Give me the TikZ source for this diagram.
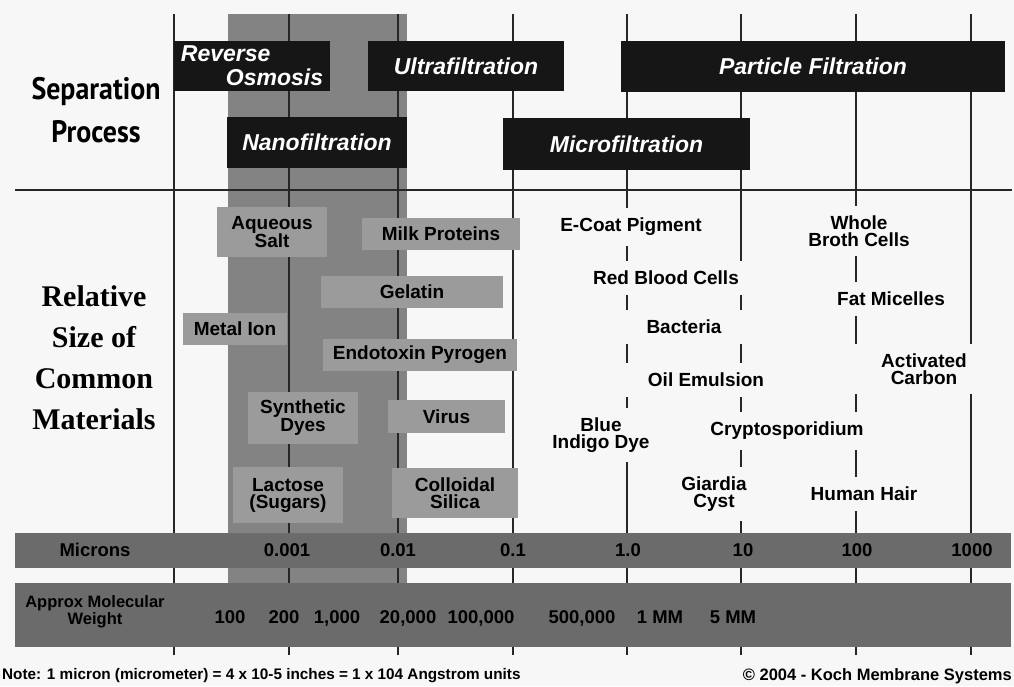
\documentclass[tikz,border=0pt]{standalone}
\usepackage{fontspec}
\setmainfont{Liberation Sans}
\newfontfamily\headfont[FakeStretch=0.9]{PT Sans}
\newfontfamily\fancyfont{Liberation Serif}
\usetikzlibrary{positioning}
\definecolor{Ink}{HTML}{161616}
\definecolor{Column}{HTML}{838383}
\definecolor{Chip}{HTML}{9B9B9B}
\definecolor{Band}{HTML}{6B6B6B}
\definecolor{Paper}{HTML}{F7F7F7}
\tikzset{
sepbox/.style={fill=Ink, text=white, inner sep=0pt, align=center, font=\fontsize{23}{24}\selectfont\bfseries\itshape},
sepmat/.style={fill=Chip, inner sep=0pt, align=center, font=\fontsize{19}{17}\selectfont\bfseries},
sepfree/.style={fill=Paper, inner xsep=28pt, inner ysep=10pt, align=center, font=\fontsize{19}{17}\selectfont\bfseries},
sepband/.style={fill=Band, inner sep=0pt, minimum width=996},
sepval/.style={font=\fontsize{18.5}{18}\selectfont\bfseries, inner sep=0pt, text height=13pt, text depth=3pt},
sepnote/.style={font=\fontsize{15.3}{15}\selectfont\bfseries, inner sep=0pt, anchor=west},
sepgrid/.style={line width=1.3pt, draw=black!85}
}

\begin{document}
\begin{tikzpicture}[x=1pt, y=-1pt]
  \fill[Paper] (0,0) rectangle (1014,686);
  \useasboundingbox (0,0) rectangle (1014,686);
  \fill[Column] (228,14) rectangle (407,583);
  \foreach \gx in {174,289,398,513,627,741,856,971}
    \draw[sepgrid] (\gx,14) -- (\gx,655);
  \draw[sepgrid] (15,190) -- (1012,190);

  \node[font=\headfont\bfseries\fontsize{31}{43}\selectfont, align=center] (sephead) at (96,110) {Separation\\Process};
  \node[font=\fancyfont\bfseries\fontsize{30}{41}\selectfont, align=center] (relhead) at (94,358) {Relative\\Size of\\Common\\Materials};

  \node[sepbox, minimum width=156, minimum height=50, align=left] (ro) at (252,66) {Reverse\\\hspace*{45pt}Osmosis};
  \node[sepbox, minimum width=196, minimum height=50] (uf) at (466,66) {Ultrafiltration};
  \node[sepbox, minimum width=384, minimum height=51] (pf) at (813,66.5) {Particle Filtration};
  \node[sepbox, minimum width=180, minimum height=51] (nf) at (317,142.5) {Nanofiltration};
  \node[sepbox, minimum width=247, minimum height=52] (mf) at (626.5,144) {Microfiltration};

  \node[sepmat, minimum width=110, minimum height=50] (salt) at (272,232) {Aqueous\\Salt};
  \node[sepmat, minimum width=158, minimum height=32] (milk) at (441,234) {Milk Proteins};
  \node[sepmat, minimum width=182, minimum height=32] (gelatin) at (412,292) {Gelatin};
  \node[sepmat, minimum width=104, minimum height=32] (metal) at (235,329) {Metal Ion};
  \node[sepmat, minimum width=194, minimum height=32] (endo) at (420,355) {Endotoxin Pyrogen};
  \node[sepmat, minimum width=110, minimum height=52] (dyes) at (303,418) {Synthetic\\Dyes};
  \node[sepmat, minimum width=117, minimum height=33] (virus) at (446.5,416.5) {Virus};
  \node[sepmat, minimum width=110, minimum height=56] (lactose) at (288,495) {Lactose\\(Sugars)};
  \node[sepmat, minimum width=126, minimum height=50] (silica) at (455,493) {Colloidal\\Silica};

  \node[sepfree] (ecoat) at (631,227) {E-Coat Pigment};
  \node[sepfree] (broth) at (859,231) {Whole\\Broth Cells};
  \node[sepfree] (rbc) at (666,278) {Red Blood Cells};
  \node[sepfree, inner xsep=20pt] (micelles) at (891,299) {Fat Micelles};
  \node[sepfree] (bacteria) at (684,327) {Bacteria};
  \node[sepfree] (carbon) at (924,369) {Activated\\Carbon};
  \node[sepfree] (oil) at (706,380) {Oil Emulsion};
  \node[sepfree] (indigo) at (601,435) {Blue\\Indigo Dye};
  \node[sepfree] (crypto) at (787,431) {Cryptosporidium};
  \node[sepfree] (giardia) at (714,494) {Giardia\\Cyst};
  \node[sepfree] (hair) at (864,494) {Human Hair};

  \node[sepband, minimum height=35] (micband) at (513,550.5) {};
  \node[sepband, minimum height=64] (mwband) at (513,615) {};
  \node[sepval] (miclab) at (95,551) {Microns};
  \node[sepval] (mica) at (287,551) {0.001};
  \node[sepval] (micb) at (398,551) {0.01};
  \node[sepval] (micc) at (513,551) {0.1};
  \node[sepval] (micd) at (628,551) {1.0};
  \node[sepval] (mice) at (743,551) {10};
  \node[sepval] (micf) at (857,551) {100};
  \node[sepval] (micg) at (972,551) {1000};
  \node[font=\fontsize{16.5}{17}\selectfont\bfseries, inner sep=0pt, align=center] (mwlab) at (95,612) {Approx Molecular\\Weight};
  \node[sepval] (mwa) at (230,618) {100};
  \node[sepval] (mwb) at (284,618) {200};
  \node[sepval] (mwc) at (337,618) {1,000};
  \node[sepval] (mwd) at (408,618) {20,000};
  \node[sepval] (mwe) at (481,618) {100,000};
  \node[sepval] (mwf) at (582,618) {500,000};
  \node[sepval] (mwg) at (660,618) {1 MM};
  \node[sepval] (mwh) at (733,618) {5 MM};

  \node[sepnote] (note) at (2,676) {Note: 1 micron (micrometer) = 4 x 10-5 inches = 1 x 104 Angstrom units};
  \node[sepnote, anchor=east, font=\fontsize{16.5}{17}\selectfont\bfseries] (copy) at (1012,676) {© 2004 - Koch Membrane Systems};
\end{tikzpicture}
\end{document}
